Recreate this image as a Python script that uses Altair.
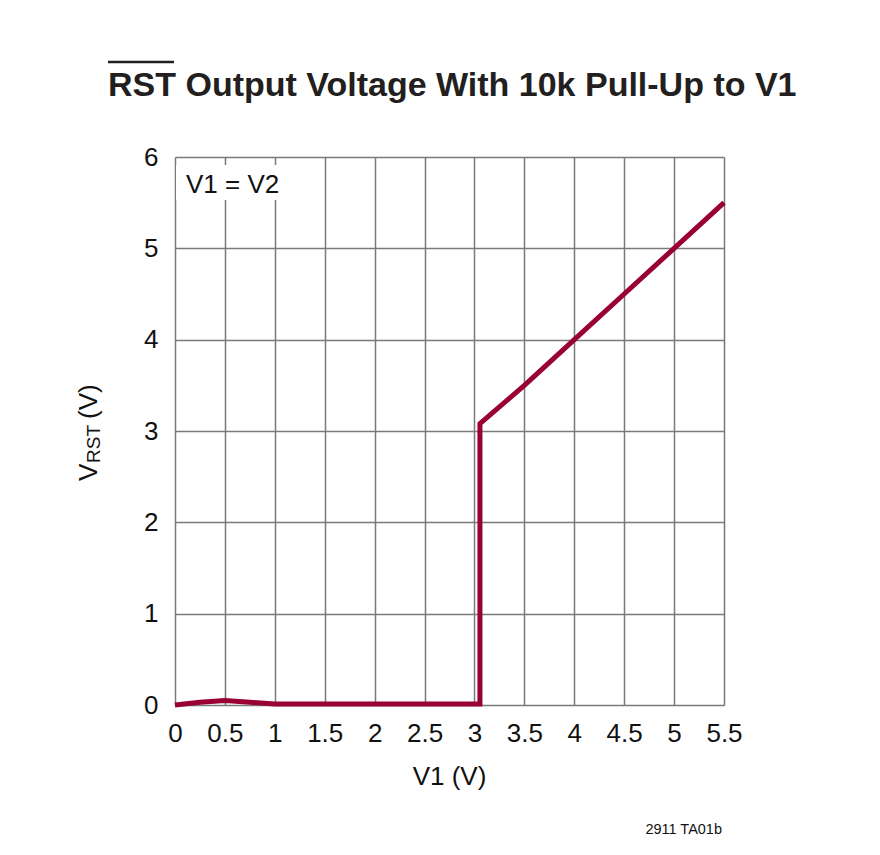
import altair as alt
import pandas as pd

# Data
v1 = [0, 0.25, 0.5, 0.75, 1.0, 1.5, 2.0, 2.5, 3.055, 3.055, 3.5, 4.0, 4.5, 5.0, 5.5]
vrst = [0, 0.03, 0.05, 0.03, 0.01, 0.01, 0.01, 0.01, 0.01, 3.08, 3.5, 4.0, 4.5, 5.0, 5.5]
x_ticks = [0, 0.5, 1, 1.5, 2, 2.5, 3, 3.5, 4, 4.5, 5, 5.5]
y_ticks = [0, 1, 2, 3, 4, 5, 6]

title_text = "RST Output Voltage With 10k Pull-Up to V1"
note_text = "V1 = V2"
footer_text = "2911 TA01b"

df = pd.DataFrame({"v1": v1, "vrst": vrst, "i": list(range(len(v1)))})
one = pd.DataFrame({"a": [0]})

W, H = 549, 548
RED = "#990033"
FONT = "Liberation Sans"
INK = "#231f20"

line = alt.Chart(df).mark_line(color=RED, strokeWidth=5, strokeJoin="miter").encode(
    x=alt.X("v1:Q", scale=alt.Scale(domain=[0, 5.5], nice=False, zero=False),
            axis=alt.Axis(values=x_ticks, title=None, ticks=False, domain=False,
                          grid=True, gridColor="#7a7a7a", gridWidth=1.5,
                          labelFont=FONT, labelFontSize=26, labelColor="#111",
                          labelPadding=15, labelFlush=False,
                          labelExpr="format(datum.value, '~g')")),
    y=alt.Y("vrst:Q", scale=alt.Scale(domain=[0, 6], nice=False),
            axis=alt.Axis(values=y_ticks, title=None, ticks=False, domain=False,
                          grid=True, gridColor="#7a7a7a", gridWidth=1.5,
                          labelFont=FONT, labelFontSize=26, labelColor="#111",
                          labelPadding=17, labelFlush=False)),
    order="i:Q",
)

box = alt.Chart(one).mark_rect(fill="white").encode(
    x=alt.value(1), x2=alt.value(116), y=alt.value(8), y2=alt.value(43)
)
note = alt.Chart(one).mark_text(font=FONT, fontSize=26, align="left", baseline="alphabetic",
                                color="#111").encode(
    x=alt.value(11), y=alt.value(36), text=alt.value(note_text))

title = alt.Chart(one).mark_text(font=FONT, fontWeight="bold", fontSize=34, align="left",
                                 baseline="alphabetic", color=INK).encode(
    x=alt.value(-67), y=alt.value(-61), text=alt.value(title_text))
overline = alt.Chart(one).mark_rule(color=INK, strokeWidth=2.5).encode(
    x=alt.value(-67), x2=alt.value(-1), y=alt.value(-95))

xlabel = alt.Chart(one).mark_text(font=FONT, fontSize=26, align="center", baseline="alphabetic",
                                  color="#111").encode(
    x=alt.value(W / 2), y=alt.value(628), text=alt.value("V1 (V)"))

ylab_v = alt.Chart(one).mark_text(font=FONT, fontSize=26, align="left", baseline="alphabetic",
                                  angle=270, color="#111").encode(
    x=alt.value(-78), y=alt.value(324), text=alt.value("V"))
ylab_rst = alt.Chart(one).mark_text(font=FONT, fontSize=19, align="left", baseline="alphabetic",
                                    angle=270, color="#111").encode(
    x=alt.value(-75), y=alt.value(306), text=alt.value("RST"))
ylab_unit = alt.Chart(one).mark_text(font=FONT, fontSize=26, align="left", baseline="alphabetic",
                                     angle=270, color="#111").encode(
    x=alt.value(-78), y=alt.value(262), text=alt.value("(V)"))

footer = alt.Chart(one).mark_text(font=FONT, fontSize=14.5, align="right", baseline="alphabetic",
                                  color="#111").encode(
    x=alt.value(547), y=alt.value(677), text=alt.value(footer_text))

chart = alt.layer(line, box, note, title, overline, xlabel, ylab_v, ylab_rst, ylab_unit, footer).properties(
    width=W, height=H,
    autosize=alt.AutoSizeParams(type="none"),
    padding={"left": 167, "top": 149, "right": 140, "bottom": 150},
).configure_view(stroke=INK, strokeWidth=2.5).configure(background="white")

chart.save("out.html", embed_options={"renderer": "svg", "actions": False})
